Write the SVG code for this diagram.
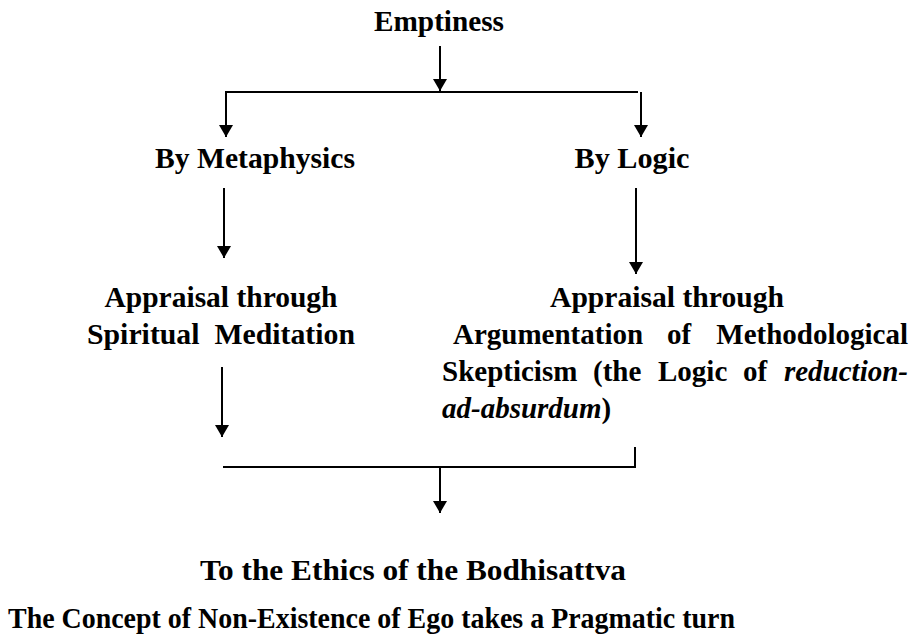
<svg xmlns="http://www.w3.org/2000/svg" width="911" height="635" viewBox="0 0 911 635">
<style>
text{font-family:"Liberation Serif","Times New Roman",serif;font-weight:bold;font-size:29px;fill:#000}
.c{text-anchor:middle}
.e{text-anchor:end}
.i{font-style:italic}
.ln{stroke:#000;stroke-width:2;fill:none}
</style>
<defs>
<marker id="ah" viewBox="0 0 12 14" refX="12" refY="7" markerWidth="12" markerHeight="14" markerUnits="userSpaceOnUse" orient="auto">
<path d="M0,0 L12,7 L0,14 Z" fill="#000"/>
</marker>
</defs>
<rect width="911" height="635" fill="#fff"/>
<g id="connectors">
<line class="ln" x1="440" y1="46" x2="440" y2="91" marker-end="url(#ah)"/>
<line class="ln" x1="225" y1="92" x2="638" y2="92"/>
<line class="ln" x1="226" y1="92" x2="226" y2="137" marker-end="url(#ah)"/>
<line class="ln" x1="641" y1="92" x2="641" y2="137" marker-end="url(#ah)"/>
<line class="ln" x1="224" y1="188" x2="224" y2="258" marker-end="url(#ah)"/>
<line class="ln" x1="636" y1="188" x2="636" y2="274" marker-end="url(#ah)"/>
<line class="ln" x1="222" y1="367" x2="222" y2="437" marker-end="url(#ah)"/>
<polyline class="ln" points="223,467 635,467 635,447"/>
<line class="ln" x1="440" y1="467" x2="440" y2="513" marker-end="url(#ah)"/>
</g>
<g id="emptiness"><text class="c" x="439" y="31" textLength="130" lengthAdjust="spacingAndGlyphs">Emptiness</text></g>
<g id="metaphysics"><text class="c" x="255" y="168" textLength="200" lengthAdjust="spacingAndGlyphs">By Metaphysics</text></g>
<g id="logic"><text class="c" x="632" y="168" textLength="115" lengthAdjust="spacingAndGlyphs">By Logic</text></g>
<g id="meditation">
<text class="c" x="221" y="307" textLength="233" lengthAdjust="spacingAndGlyphs">Appraisal through</text>
<text class="c" x="221" y="344" textLength="268" lengthAdjust="spacingAndGlyphs" xml:space="preserve">Spiritual  Meditation</text>
</g>
<g id="argumentation">
<text class="c" x="667" y="307" textLength="234" lengthAdjust="spacingAndGlyphs">Appraisal through</text>
<text x="453" y="344">Argumentation</text>
<text x="667" y="344">of</text>
<text class="e" x="908" y="344">Methodological</text>
<text x="442" y="381">Skepticism</text>
<text x="593" y="381">(the</text>
<text x="658" y="381">Logic</text>
<text x="743" y="381">of</text>
<text class="e i" x="908" y="381">reduction-</text>
<text x="442" y="418"><tspan class="i">ad-absurdum</tspan>)</text>
</g>
<g id="ethics"><text class="c" x="413" y="580" textLength="426" lengthAdjust="spacingAndGlyphs">To the Ethics of the Bodhisattva</text></g>
<g id="pragmatic"><text x="8" y="628" textLength="727" lengthAdjust="spacingAndGlyphs">The Concept of Non-Existence of Ego takes a Pragmatic turn</text></g>
</svg>
